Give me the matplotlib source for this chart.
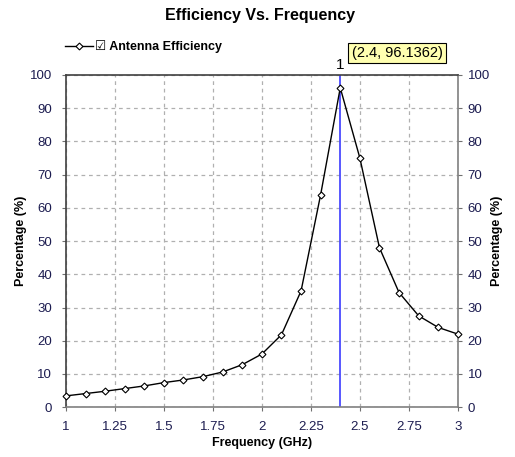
import matplotlib
matplotlib.use("Agg")
import matplotlib.pyplot as plt
from matplotlib.lines import Line2D

plt.rcParams["font.family"] = ["Liberation Sans", "DejaVu Sans"]

# data
freq = [1.0, 1.1, 1.2, 1.3, 1.4, 1.5, 1.6, 1.7, 1.8, 1.9, 2.0,
        2.1, 2.2, 2.3, 2.4, 2.5, 2.6, 2.7, 2.8, 2.9, 3.0]
efficiency = [3.4, 4.1, 4.8, 5.6, 6.4, 7.4, 8.2, 9.2, 10.6, 12.8, 16.0,
              21.8, 35.0, 64.0, 96.1362, 75.0, 48.0, 34.5, 27.5, 24.0, 22.0]
marker_x = 2.4
marker_y = 96.1362
xticks = [1, 1.25, 1.5, 1.75, 2, 2.25, 2.5, 2.75, 3]
xticklabels = ["1", "1.25", "1.5", "1.75", "2", "2.25", "2.5", "2.75", "3"]
yticks = list(range(0, 101, 10))

tick_color = "#1c1c50"

fig = plt.figure(figsize=(5.15, 4.57), dpi=100)
ax = fig.add_axes([0.128, 0.109, 0.761, 0.727])

ax.plot(freq, efficiency, color="black", lw=1, marker="D", ms=3.5,
        mfc="white", mec="black", mew=0.8, zorder=3, clip_on=False)
ax.axvline(marker_x, color="#4a4aff", lw=1.3, zorder=2)

ax.set_xlim(1, 3)
ax.set_ylim(0, 100)
ax.set_xticks(xticks)
ax.set_xticklabels(xticklabels)
ax.set_yticks(yticks)
ax.grid(True, ls=(0, (3, 3)), color="#b0b0b0", lw=0.9)
ax.tick_params(colors="#707070", labelcolor=tick_color, labelsize=9.5,
               length=3, width=0.8, pad=7)

for side in ["top", "left"]:
    ax.spines[side].set_color("#404040")
for side in ["bottom", "right"]:
    ax.spines[side].set_color("#808080")
for s in ax.spines.values():
    s.set_linewidth(1.2)

ax2 = ax.twinx()
ax2.set_ylim(0, 100)
ax2.set_yticks(yticks)
ax2.tick_params(colors="#707070", labelcolor=tick_color, labelsize=9.5,
                length=3, width=0.8, pad=4)
for s in ax2.spines.values():
    s.set_visible(False)

ax.set_xlabel("Frequency (GHz)", fontsize=9, fontweight="bold", labelpad=3)
ax.set_ylabel("Percentage (%)", fontsize=9, fontweight="bold", labelpad=2)
ax2.set_ylabel("Percentage (%)", fontsize=9, fontweight="bold", labelpad=1)

fig.text(0.505, 0.967, "Efficiency Vs. Frequency", ha="center", va="center",
         fontsize=11.5, fontweight="bold")

# legend with a checkbox
handle = Line2D([], [], color="black", lw=1, marker="D", ms=3.5,
                mfc="white", mec="black", mew=0.8)
fig.legend([handle], ["\u2611 Antenna Efficiency"], loc="center left",
           bbox_to_anchor=(0.105, 0.897), frameon=False,
           handlelength=2.2, handletextpad=0.2,
           prop={"weight": "bold", "size": 9,
                 "family": ["Liberation Sans", "DejaVu Sans"]})

ax.text(marker_x, 101.0, "1", ha="center", va="bottom", fontsize=11,
        color="black", clip_on=False)
ax.annotate("(%.1f, %.4f)" % (marker_x, marker_y), xy=(0.771, 0.884),
            xycoords="figure fraction", ha="center", va="center",
            fontsize=10.5, color="black",
            bbox=dict(boxstyle="square,pad=0.22", fc="#ffffb0", ec="black", lw=0.8))

fig.savefig("out.png", dpi=100)
